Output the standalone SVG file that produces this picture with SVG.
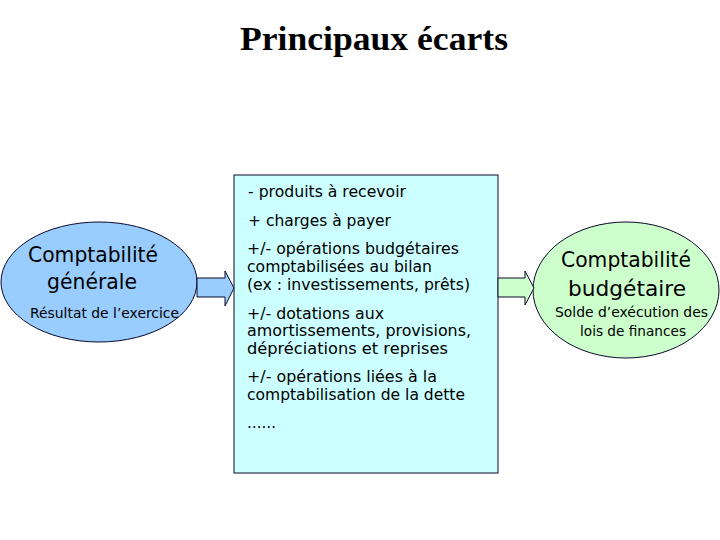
<svg xmlns="http://www.w3.org/2000/svg" width="720" height="540" viewBox="0 0 720 540">
<style>
.shape{stroke:#0a0a2a;stroke-width:1}
.t{font-family:"DejaVu Sans","Liberation Sans",sans-serif;fill:#000;}
.box{font-size:15.5px}
.big{font-size:21.5px}
.small{font-size:14.5px}
.title{font-family:"Liberation Serif","Times New Roman",serif;font-weight:bold;font-size:34px;fill:#000}
</style>
<rect width="720" height="540" fill="#fff"/>
<text class="title" x="240" y="50" textLength="268" lengthAdjust="spacingAndGlyphs">Principaux écarts</text>

<g id="node-box">
<rect class="shape" x="234" y="175" width="264" height="298" fill="#ccffff"/>
<text class="t box" x="248" y="197" textLength="158" lengthAdjust="spacingAndGlyphs">- produits à recevoir</text>
<text class="t box" x="248" y="226" textLength="143" lengthAdjust="spacingAndGlyphs">+ charges à payer</text>
<text class="t box" x="247" y="254" textLength="212" lengthAdjust="spacingAndGlyphs">+/- opérations budgétaires</text>
<text class="t box" x="247" y="272" textLength="185" lengthAdjust="spacingAndGlyphs">comptabilisées au bilan</text>
<text class="t box" x="247" y="290" textLength="223" lengthAdjust="spacingAndGlyphs">(ex : investissements, prêts)</text>
<text class="t box" x="247" y="319" textLength="137" lengthAdjust="spacingAndGlyphs">+/- dotations aux</text>
<text class="t box" x="247" y="336" textLength="224" lengthAdjust="spacingAndGlyphs">amortissements, provisions,</text>
<text class="t box" x="247" y="354" textLength="201" lengthAdjust="spacingAndGlyphs">dépréciations et reprises</text>
<text class="t box" x="247" y="382" textLength="190" lengthAdjust="spacingAndGlyphs">+/- opérations liées à la</text>
<text class="t box" x="247" y="400" textLength="218" lengthAdjust="spacingAndGlyphs">comptabilisation de la dette</text>
<text class="t box" x="247" y="428" textLength="29" lengthAdjust="spacingAndGlyphs">……</text>
</g>

<g id="node-generale">
<ellipse class="shape" cx="99" cy="282" rx="98" ry="60" fill="#99ccff"/>
<text class="t big" x="28" y="262" textLength="130" lengthAdjust="spacingAndGlyphs">Comptabilité</text>
<text class="t big" x="47" y="289" textLength="90" lengthAdjust="spacingAndGlyphs">générale</text>
<text class="t small" x="30" y="318" textLength="149" lengthAdjust="spacingAndGlyphs">Résultat de l’exercice</text>
</g>

<g id="node-budgetaire">
<ellipse class="shape" cx="626" cy="290" rx="93" ry="68" fill="#ccffcc"/>
<text class="t big" x="561" y="267" textLength="130" lengthAdjust="spacingAndGlyphs">Comptabilité</text>
<text class="t big" x="568" y="296" textLength="118" lengthAdjust="spacingAndGlyphs">budgétaire</text>
<text class="t small" x="555" y="317" textLength="153" lengthAdjust="spacingAndGlyphs">Solde d’exécution des</text>
<text class="t small" x="580" y="336" textLength="106" lengthAdjust="spacingAndGlyphs">lois de finances</text>
</g>

<g id="connectors">
<polygon class="shape" fill="#99ccff" points="197,278 225,278 225,271 234,288 225,306 225,297 197,297"/>
<polygon class="shape" fill="#ccffcc" points="498,278 525,278 525,271 534,288 525,305 525,297 498,297"/>
</g>
</svg>
